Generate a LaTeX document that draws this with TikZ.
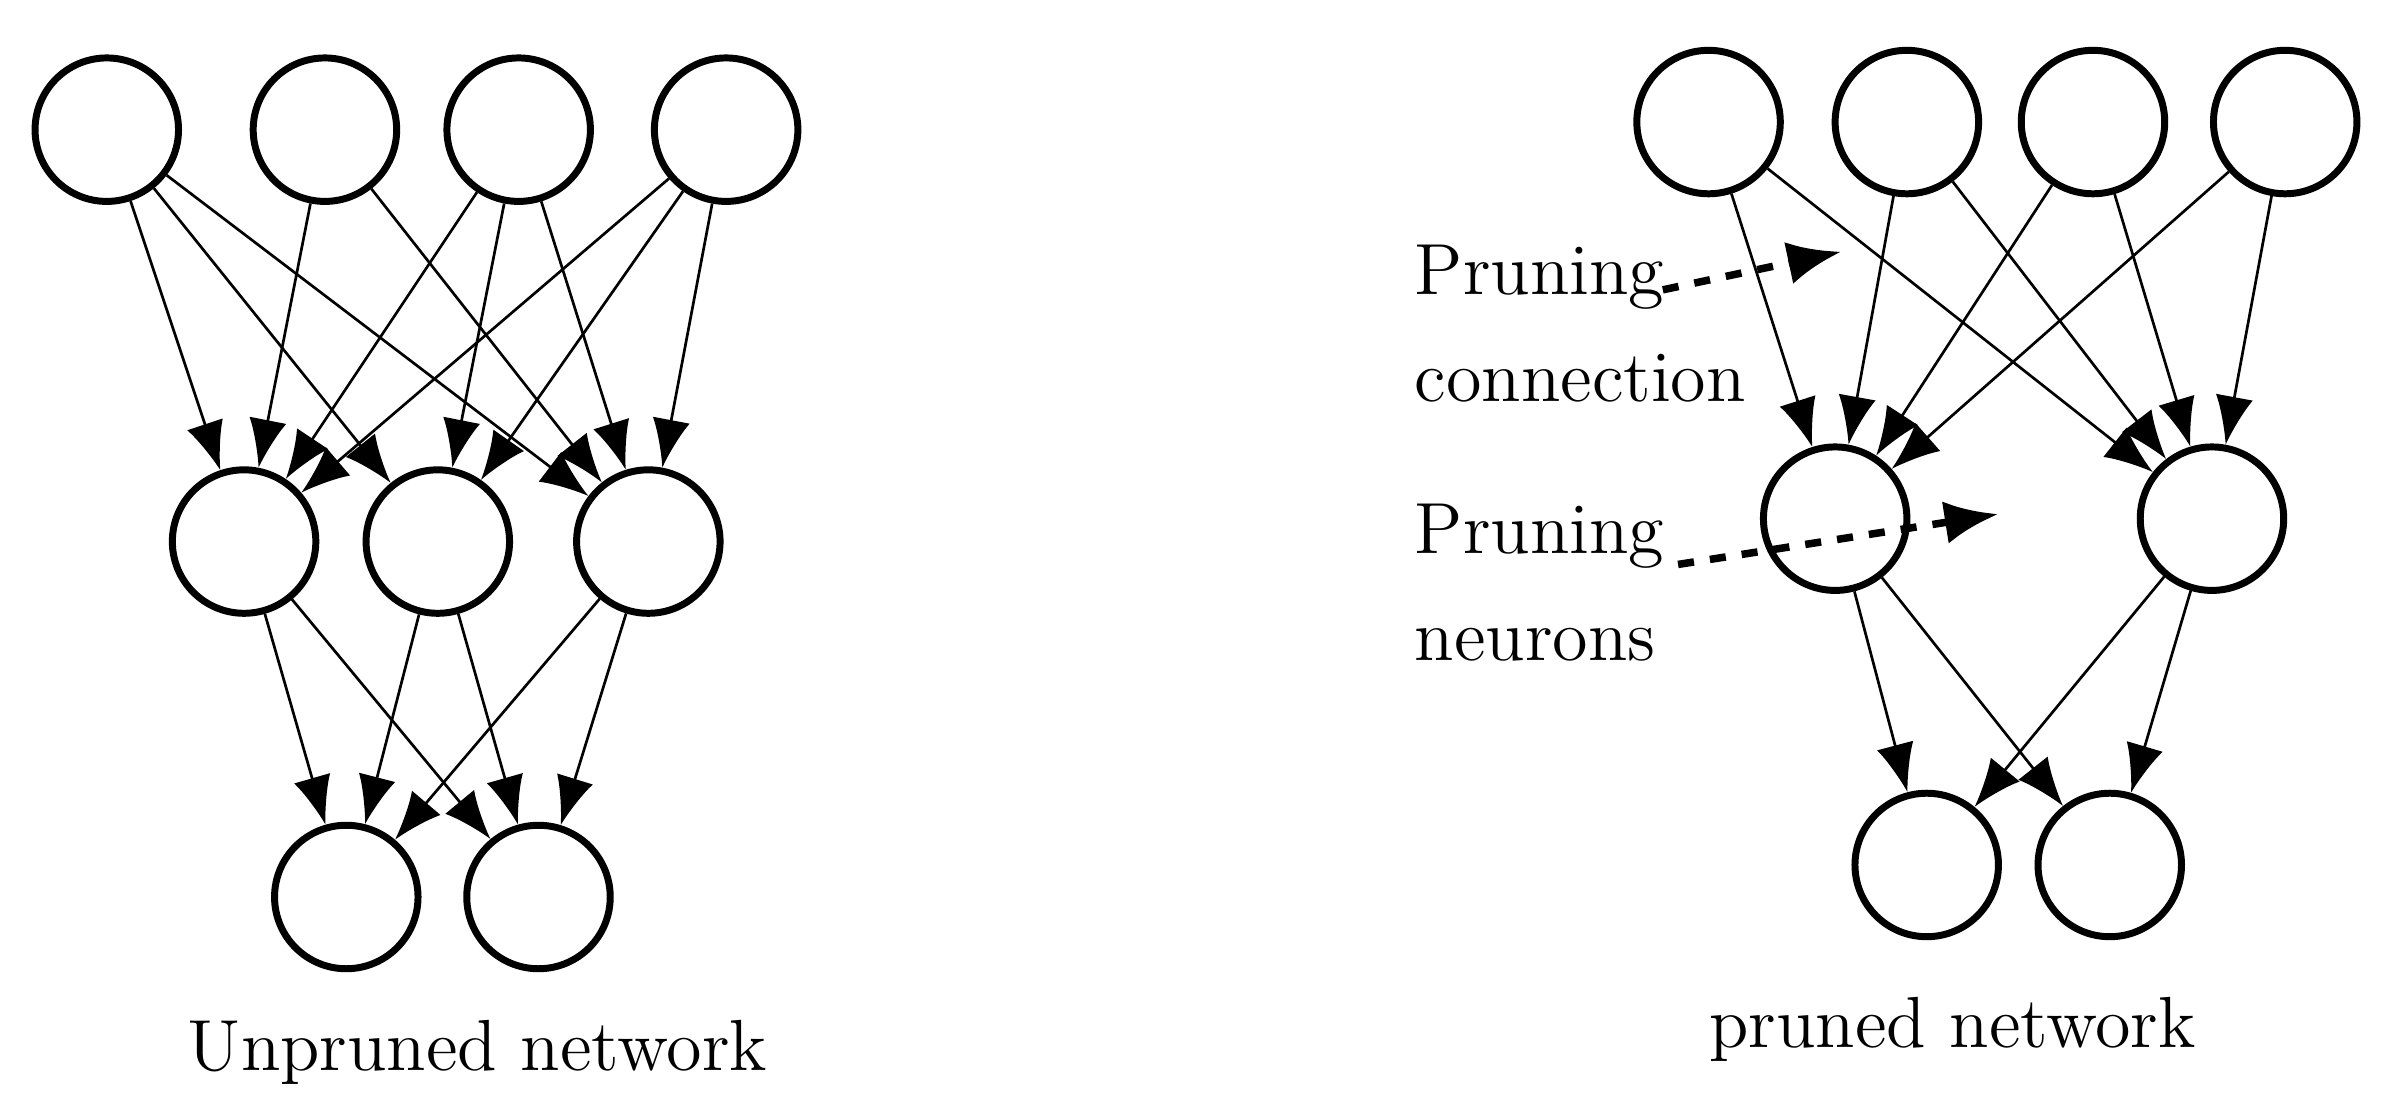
\documentclass[tikz,border=0pt]{standalone}
\usetikzlibrary{arrows.meta}
\begin{document}
\begin{tikzpicture}[x=0.01cm,y=-0.01cm,
  neu/.style={circle,draw,line width=1.3pt,minimum size=0.94cm,inner sep=0pt},
  con/.style={line width=0.5pt,-{Latex[length=9pt,width=7pt]}},
  dsh/.style={line width=1.4pt,dashed,-{Latex[length=10pt,width=8pt]}},
  lab/.style={font=\fontsize{13.5}{16}\selectfont,align=left,anchor=west}]
\useasboundingbox (0,0) rectangle (1568,730);
% left
\node[neu] (a1) at (70,85) {};
\node[neu] (a2) at (213,85) {};
\node[neu] (a3) at (340,85) {};
\node[neu] (a4) at (476,85) {};
\node[neu] (b1) at (160,355) {};
\node[neu] (b2) at (287,355) {};
\node[neu] (b3) at (425,355) {};
\node[neu] (c1) at (227,588) {};
\node[neu] (c2) at (353,588) {};
\foreach \s/\t in {a1/b1,a1/b2,a1/b3,a2/b1,a2/b3,a3/b1,a3/b2,a3/b3,a4/b1,a4/b2,a4/b3,b1/c1,b1/c2,b2/c1,b2/c2,b3/c1,b3/c2}
  \draw[con] (\s) -- (\t);
\node[font=\fontsize{13.5}{16}\selectfont] (lt) at (313,690) {Unpruned network};
% right
\node[neu] (p1) at (1120,80) {};
\node[neu] (p2) at (1250,80) {};
\node[neu] (p3) at (1372,80) {};
\node[neu] (p4) at (1498,80) {};
\node[neu] (q1) at (1203,340) {};
\node[neu] (q2) at (1450,340) {};
\node[neu] (r1) at (1263,567) {};
\node[neu] (r2) at (1383,567) {};
\foreach \s/\t in {p1/q1,p1/q2,p2/q1,p2/q2,p3/q1,p3/q2,p4/q1,p4/q2,q1/r1,q1/r2,q2/r1,q2/r2}
  \draw[con] (\s) -- (\t);
\node[lab] (t1) at (915,212) {Pruning\\[4pt]connection};
\node[lab] (t2) at (915,382) {Pruning\\[4pt]neurons};
\coordinate (d1s) at (1090,190); \coordinate (d1e) at (1207,165);
\coordinate (d2s) at (1100,370); \coordinate (d2e) at (1310,337);
\draw[dsh] (d1s) -- (d1e);
\draw[dsh] (d2s) -- (d2e);
\node[font=\fontsize{13.5}{16}\selectfont] (rt) at (1280,675) {pruned network};
\end{tikzpicture}
\end{document}
